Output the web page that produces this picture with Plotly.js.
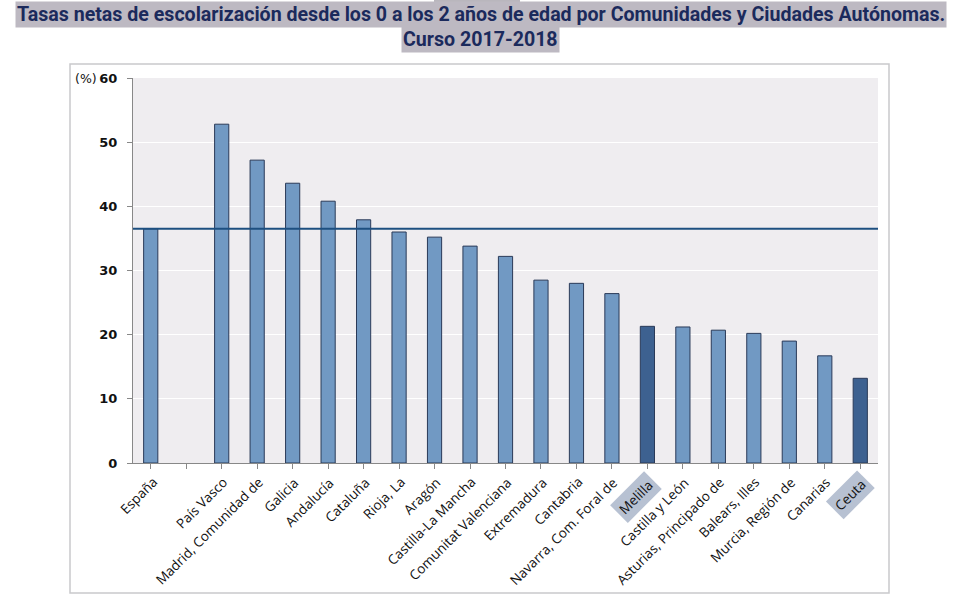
<!DOCTYPE html>
<html><head><meta charset="utf-8">
<script src="https://cdn.plot.ly/plotly-3.0.1.min.js"></script>
<style>html,body{margin:0;padding:0;background:#fff}#chart{width:960px;height:602px}</style>
</head><body><div id="chart"></div>
<script>
const categories = ["España","","País Vasco","Madrid, Comunidad de","Galicia","Andalucía","Cataluña","Rioja, La","Aragón","Castilla-La Mancha","Comunitat Valenciana","Extremadura","Cantabria","Navarra, Com. Foral de","Melilla","Castilla y León","Asturias, Principado de","Balears, Illes","Murcia, Región de","Canarias","Ceuta"];
const values = [36.5,null,52.8,47.2,43.6,40.8,37.9,36.0,35.2,33.8,32.2,28.5,28.0,26.4,21.3,21.2,20.7,20.2,19.0,16.7,13.2];
const highlighted = ["Melilla","Ceuta"];
const referenceLabel = "España";
const yTicks = [0,10,20,30,40,50,60];
const titleLines = ["Tasas netas de escolarización desde los 0 a los 2 años de edad por Comunidades y Ciudades Autónomas.","Curso 2017-2018"];

const xs = categories.map((c,i)=> i);
const refValue = values[categories.indexOf(referenceLabel)];
const colors = categories.map(c => highlighted.includes(c) ? "#3d6190" : "#7199c3");

const trace = {
  type:"bar", x: xs, y: values, width: 0.4,
  marker:{color: colors, line:{color:"#2a3a58", width:1}},
  hoverinfo:"skip"
};

const annotations = [];
categories.forEach((c,i)=>{
  if(!c) return;
  const hl = highlighted.includes(c);
  annotations.push({
    x: i, y: 0, xref:"x", yref:"y", text: c, showarrow:false,
    textangle:-45, xanchor:"right", yanchor:"top", yshift: hl ? -7 : -9, xshift: hl ? 15 : 11,
    font:{family:"Open Sans, Liberation Sans, sans-serif", size:13.5, color:"#111"},
    bgcolor: hl ? "#b7c1d2" : "rgba(0,0,0,0)", borderpad: hl ? 3 : 0
  });
});
annotations.push({xref:"paper", yref:"y", x:0, y:60, xanchor:"right", yanchor:"middle", xshift:-34,
  text:"(%)", showarrow:false, font:{family:"DejaVu Sans, sans-serif", size:12.5, color:"#111"}});
annotations.push({xref:"paper", yref:"paper", x:0.5, y:1, xanchor:"center", yanchor:"top", yshift:77, xshift:-25,
  text:"<b>"+titleLines[0]+"</b>", showarrow:false, bgcolor:"#bdb9c2", borderpad:1,
  font:{family:"Roboto, sans-serif", size:19.6, color:"#1b2a5c"}});
annotations.push({xref:"paper", yref:"paper", x:0.5, y:1, xanchor:"center", yanchor:"top", yshift:52, xshift:-25,
  text:"<b>"+titleLines[1]+"</b>", showarrow:false, bgcolor:"#bdb9c2", borderpad:1,
  font:{family:"Roboto, sans-serif", size:19.6, color:"#1b2a5c"}});

const layout = {
  width:960, height:602,
  margin:{l:133, r:82, t:78, b:139},
  paper_bgcolor:"#ffffff", plot_bgcolor:"#efedf0",
  showlegend:false,
  xaxis:{
    range:[-0.5, categories.length-0.5], showticklabels:false,
    tickmode:"array", tickvals: xs, ticks:"outside", tickson:"boundaries", ticklen:5,
    tickcolor:"#888", showline:true, linecolor:"#888", linewidth:1, showgrid:false, zeroline:false, fixedrange:true
  },
  yaxis:{
    range:[0,60], tickmode:"array", tickvals:yTicks, ticks:"outside", ticklen:5, tickcolor:"#888",
    showline:true, linecolor:"#888", linewidth:1,
    showgrid:true, gridcolor:"#ffffff", gridwidth:1, zeroline:false,
    tickfont:{family:"DejaVu Sans, sans-serif", size:13, color:"#111", weight:"bold"}, ticklabelstandoff:7
  },
  shapes:[
    {type:"rect", xref:"paper", yref:"paper", x0:-63/745, x1:(889-133)/745, y0:-(593-463)/385, y1:(463-64)/385,
      line:{color:"#c9c9cc", width:1.5}, fillcolor:"rgba(0,0,0,0)", layer:"below"},
    {type:"line", xref:"paper", yref:"y", x0:0, x1:1, y0:refValue, y1:refValue, line:{color:"#1d4f80", width:2}},
    {type:"rect", xref:"paper", yref:"paper", x0:(434-133)/745, x1:(520-133)/745, y0:(463-3)/385, y1:(463+1)/385,
      line:{width:0}, fillcolor:"#b9b6bd"}
  ],
  annotations: annotations
};
Plotly.newPlot("chart",[trace],layout,{displayModeBar:false, staticPlot:true});
</script></body></html>
